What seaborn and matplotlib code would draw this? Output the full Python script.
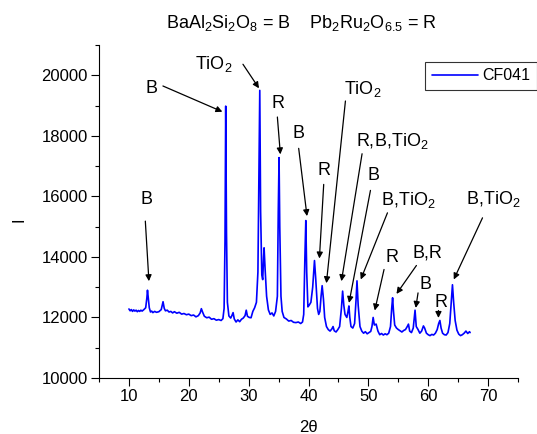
import numpy as np
import pandas as pd
import matplotlib
matplotlib.use("Agg")
import matplotlib.pyplot as plt
import seaborn as sns

# ---- data ----
two_theta = [
    10.0, 10.2, 10.4, 10.6, 10.8, 11.0, 11.2, 11.4, 11.6, 11.8, 12.0, 12.2, 12.5, 12.8,
    13.0, 13.1, 13.2, 13.4, 13.6, 13.8, 14.0, 14.3, 14.6, 15.0, 15.4, 15.7, 15.9, 16.1,
    16.4, 16.7, 17.0, 17.3, 17.6, 18.0, 18.4, 18.8, 19.2, 19.6, 20.0, 20.4, 20.8, 21.2,
    21.6, 21.9, 22.1, 22.3, 22.6, 23.0, 23.4, 23.8, 24.2, 24.6, 25.0, 25.4, 25.7, 25.9,
    26.05, 26.17, 26.3, 26.45, 26.7, 27.0, 27.2, 27.4, 27.6, 27.9, 28.2, 28.5, 28.8, 29.1,
    29.4, 29.6, 29.8, 30.1, 30.4, 30.7, 31.0, 31.3, 31.55, 31.75, 31.86, 32.0, 32.2, 32.35,
    32.5, 32.58, 32.75, 33.0, 33.3, 33.6, 33.9, 34.2, 34.5, 34.8, 34.95, 35.08, 35.2, 35.4,
    35.6, 35.9, 36.3, 36.7, 37.1, 37.5, 37.9, 38.3, 38.7, 39.0, 39.2, 39.4, 39.55, 39.7,
    39.9, 40.1, 40.4, 40.7, 41.0, 41.2, 41.5, 41.7, 41.9, 42.1, 42.28, 42.5, 42.7, 43.0,
    43.3, 43.6, 43.9, 44.1, 44.3, 44.6, 44.9, 45.2, 45.5, 45.7, 45.9, 46.1, 46.4, 46.6,
    46.75, 46.9, 47.1, 47.4, 47.7, 47.95, 48.1, 48.3, 48.6, 48.9, 49.2, 49.5, 49.8, 50.1,
    50.4, 50.6, 50.8, 51.0, 51.3, 51.6, 51.9, 52.2, 52.5, 52.8, 53.1, 53.4, 53.7, 53.9,
    54.05, 54.2, 54.4, 54.7, 55.0, 55.3, 55.6, 55.9, 56.2, 56.5, 56.7, 56.9, 57.2, 57.5,
    57.8, 58.0, 58.3, 58.6, 58.9, 59.2, 59.4, 59.7, 60.0, 60.3, 60.6, 60.9, 61.2, 61.5,
    61.75, 61.95, 62.15, 62.4, 62.7, 63.0, 63.3, 63.6, 63.85, 64.05, 64.25, 64.5, 64.8, 65.1,
    65.4, 65.7, 66.0, 66.3, 66.6, 66.9, 67.0,
]
intensity = [
    12280, 12220, 12260, 12200, 12250, 12210, 12240, 12190, 12230, 12200, 12240, 12210, 12260, 12320,
    12650, 12900, 12700, 12320, 12180, 12210, 12160, 12200, 12170, 12190, 12260, 12520, 12300, 12220,
    12240, 12180, 12200, 12150, 12190, 12140, 12170, 12110, 12130, 12090, 12110, 12060, 12080, 12020,
    12060, 12150, 12290, 12180, 12040, 11990, 12010, 11940, 11960, 11910, 11930, 11900, 11960, 12300,
    14500, 18980, 14800, 12500, 12050, 11980, 12060, 12160, 11950, 11850, 11920, 11860, 11940, 11980,
    12060, 12240, 12040, 12000, 11990, 12200, 12320, 12500, 13500, 17500, 19500, 15500, 13400, 13250,
    14000, 14300, 13600, 12700, 12250, 12100, 12150, 12050, 12200, 12700, 15500, 17280, 15000, 12700,
    12200, 12000, 11950, 11880, 11900, 11840, 11830, 11850, 11800, 11850, 12100, 14000, 15200, 13500,
    12350, 12400, 12500, 13000, 13880, 13300, 12300, 12100, 12200, 12700, 13050, 12600, 12000, 11700,
    11600, 11550, 11620, 11700, 11560, 11520, 11600, 11700, 12300, 12870, 12400, 12100, 12000, 12200,
    12380, 12000, 11700, 11650, 11800, 12600, 13210, 12400, 11700, 11550, 11480, 11530, 11460, 11500,
    11540, 11700, 12000, 11750, 11780, 11550, 11430, 11470, 11420, 11460, 11430, 11480, 11700, 12300,
    12650, 12200, 11750, 11650, 11600, 11560, 11520, 11570, 11600, 11700, 11780, 11550, 11500, 11650,
    12240, 11700, 11600, 11480, 11550, 11720, 11650, 11480, 11430, 11400, 11440, 11420, 11480, 11600,
    11800, 11900, 11650, 11480, 11430, 11420, 11500, 11800, 12500, 13080, 12500, 11900, 11580, 11450,
    11400, 11430, 11480, 11550, 11470, 11530, 11500,
]
series_name = "CF041"

# annotations: label, text anchor (2theta, I), arrow tail, arrow tip
ann_labels = ["B", "B", "TiO$_2$", "R", "B", "R", "TiO$_2$", "R,B,TiO$_2$", "B",
              "B,TiO$_2$", "R", "B,R", "B", "R", "B,TiO$_2$"]
ann_text_x = [12.91, 13.74, 24.19, 34.9, 38.25, 42.6, 49.12, 54.04, 50.93, 56.7, 53.94, 59.87, 59.62, 62.07, 70.9]
ann_text_y = [15744, 19398, 20192, 18912, 17943, 16696, 19372, 17662, 16528, 15711, 13826, 13968, 12943, 12338, 15734]
ann_tail_x = [12.74, 15.68, 29.05, 34.8, 38.36, 42.54, 46.17, 48.95, 50.35, 53.19, 52.62, 58.03, 58.3, 61.71, 69.07]
ann_tail_y = [15182, 19646, 20364, 18621, 17586, 16395, 19150, 17408, 16197, 15456, 13585, 13717, 12811, 12229, 15291]
ann_tip_x = [13.34, 25.61, 31.73, 35.3, 39.75, 41.82, 42.99, 45.5, 46.77, 48.73, 51.07, 54.7, 57.92, 61.71, 64.27]
ann_tip_y = [13198, 18796, 19570, 17388, 15347, 13948, 13132, 13198, 12480, 13254, 12229, 12778, 12315, 11984, 13254]

title_text = "BaAl$_2$Si$_2$O$_8$ = B    Pb$_2$Ru$_2$O$_{6.5}$ = R"
x_label = "2θ"
y_label = "I"
x_ticks = [10, 20, 30, 40, 50, 60, 70]
y_ticks = [10000, 12000, 14000, 16000, 18000, 20000]

# ---- style ----
sns.set_style("ticks")
plt.rcParams["font.family"] = ["Liberation Sans", "DejaVu Sans"]
plt.rcParams["mathtext.fontset"] = "custom"
plt.rcParams["mathtext.rm"] = "Liberation Sans"
plt.rcParams["mathtext.it"] = "Liberation Sans:italic"
plt.rcParams["mathtext.bf"] = "Liberation Sans:bold"
plt.rcParams["text.color"] = "black"
plt.rcParams["axes.labelcolor"] = "black"
plt.rcParams["xtick.color"] = "black"
plt.rcParams["ytick.color"] = "black"

fig = plt.figure(figsize=(5.37, 4.34), dpi=100)
ax = fig.add_axes([99 / 537, 1 - 378 / 434, 419 / 537, 333 / 434])

df = pd.DataFrame({"two_theta": two_theta, "I": intensity})
sns.lineplot(data=df, x="two_theta", y="I", ax=ax, color="#0000ff", lw=1.2,
             label=series_name, estimator=None, sort=False)

ax.set_xlim(5, 75)
ax.set_ylim(10000, 21000)
ax.set_xticks(x_ticks)
ax.set_yticks(y_ticks)
ax.set_xticks(np.arange(5, 76, 10), minor=True)
ax.set_yticks(np.arange(11000, 21001, 2000), minor=True)
ax.tick_params(axis="both", which="major", direction="out", length=5.5, width=0.8,
               labelsize=12, pad=2.5, color="black", labelcolor="black")
ax.tick_params(axis="both", which="minor", direction="out", length=3, width=0.8, color="black")
for s in ["top", "right"]:
    ax.spines[s].set_visible(False)
for s in ["left", "bottom"]:
    ax.spines[s].set_linewidth(0.8)
    ax.spines[s].set_color("black")

ax.set_xlabel("")
ax.set_ylabel("")
fig.text(308 / 537, 1 - 428 / 434, x_label, ha="center", va="center", fontsize=12, color="black")
fig.text(19 / 537, 1 - 220 / 434, y_label, ha="center", va="center", fontsize=12,
         rotation=90, color="black")

fig.text(301.5 / 537, 1 - 28.3 / 434, title_text, ha="center", va="baseline",
         fontsize=13, color="black")

for lab, tx, ty, ax0, ay0, bx, by in zip(ann_labels, ann_text_x, ann_text_y,
                                          ann_tail_x, ann_tail_y, ann_tip_x, ann_tip_y):
    ax.text(tx, ty, lab, ha="center", va="baseline", fontsize=13, color="black")
    ax.annotate("", xy=(bx, by), xytext=(ax0, ay0),
                arrowprops=dict(arrowstyle="-|>", color="black", lw=0.9,
                                mutation_scale=9, shrinkA=0, shrinkB=0))

leg = ax.legend(loc="upper right", bbox_to_anchor=(1.0, 1 - 62 / 434),
                bbox_transform=fig.transFigure, frameon=True, fancybox=False,
                fontsize=11.5, handlelength=2.9, handletextpad=0.3,
                borderpad=0.4, borderaxespad=0)
leg.get_frame().set_edgecolor("black")
leg.get_frame().set_linewidth(0.8)
leg.get_frame().set_facecolor("white")
for t in leg.get_texts():
    t.set_color("black")

fig.savefig("out.png", dpi=100)
